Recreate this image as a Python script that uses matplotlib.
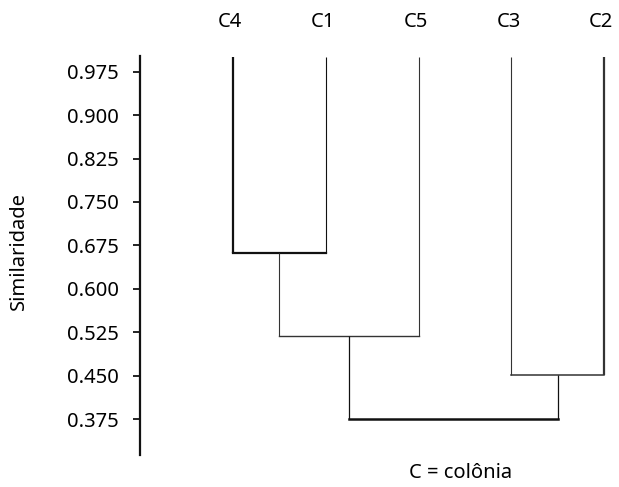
import matplotlib
matplotlib.use("Agg")
import matplotlib.pyplot as plt

plt.rcParams['font.family'] = ['Noto Sans', 'DejaVu Sans']

# leaf order along the top and the merge heights
leaves = ["C4", "C1", "C5", "C3", "C2"]
leaf_height = 1.0
# (left cluster, right cluster, similarity at merge)
merges = [
    ("C4", "C1", 0.661),
    ("C4+C1", "C5", 0.519),
    ("C3", "C2", 0.451),
    ("C4+C1+C5", "C3+C2", 0.375),
]
yticks = [0.375, 0.450, 0.525, 0.600, 0.675, 0.750, 0.825, 0.900, 0.975]

# drawing style per merge: (left leg width, right leg width, bar width, colour)
merge_style = [
    (1.6, 0.8, 1.6, "#111111"),
    (0.8, 0.8, 1.0, "#333333"),
    (0.8, 1.6, 1.1, "#333333"),
    (0.9, 0.9, 1.8, "#111111"),
]

FS = 14.5
fig = plt.figure(figsize=(6.19, 4.87), dpi=100)
W, H = 619, 487
ax = fig.add_axes([140 / W, (H - 455) / H, (W - 140) / W, 399 / H])

pos = {name: i for i, name in enumerate(leaves)}
top = {name: leaf_height for name in leaves}

for (a, b, h), (lwa, lwb, lwh, col) in zip(merges, merge_style):
    xa, xb = pos[a], pos[b]
    ax.plot([xa, xa], [top[a], h], color=col, lw=lwa, solid_capstyle='butt')
    ax.plot([xb, xb], [top[b], h], color=col, lw=lwb, solid_capstyle='butt')
    ax.plot([xa, xb], [h, h], color=col, lw=lwh, solid_capstyle='projecting')
    name = a + "+" + b
    pos[name] = (xa + xb) / 2
    top[name] = h

# leaf labels above the axes area
for name in leaves:
    ax.text(pos[name] - 0.03, 1 + 34 / 399, name, transform=ax.get_xaxis_transform(),
            ha='center', va='center', fontsize=FS)

ax.set_xlim(-1.003, 4.161)
ax.set_ylim(0.313, 1.002)
ax.set_yticks(yticks)
ax.set_yticklabels(["%.3f" % v for v in yticks], fontsize=FS)
ax.tick_params(axis='y', length=5, width=1.3, pad=10, color='#111111')
ax.set_xticks([])
for s in ['top', 'right', 'bottom']:
    ax.spines[s].set_visible(False)
ax.spines['left'].set_linewidth(1.6)
ax.spines['left'].set_color('#111111')

fig.text(19 / W, 1 - 251 / H, "Similaridade", rotation=90, ha='center',
         va='center', fontsize=FS)
fig.text(461 / W, 1 - 473 / H, "C = colônia", ha='center', va='center',
         fontsize=FS)

fig.savefig("out.png", dpi=100)
